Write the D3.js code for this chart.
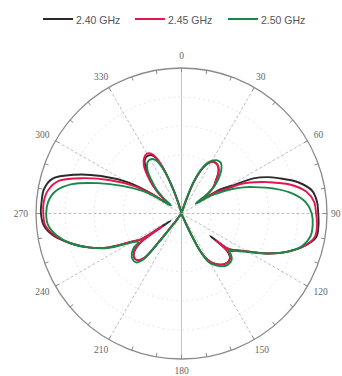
<!DOCTYPE html>
<html>
<head>
<meta charset="utf-8">
<script src="https://cdn.jsdelivr.net/npm/d3@7"></script>
<style>
  html, body { margin: 0; padding: 0; background: #fff; }
  svg { display: block; }
</style>
</head>
<body>
<script>
// Azimuth angles (degrees, clockwise from top) at which the pattern is sampled
const angles = [
  0, 10, 17, 19, 21, 24, 27, 30, 34, 38,
  42, 46, 50, 53, 55.5, 58, 61, 64, 67, 70,
  75, 80, 85, 90, 95, 100, 105, 110, 115, 120,
  124, 127, 128, 129.5, 133, 138, 143, 148, 151, 153.5,
  155.5, 158, 170, 190, 210, 217, 218.5, 220, 223, 227,
  231, 234.5, 236, 237.5, 240, 245, 250, 255, 260, 265,
  270, 275, 280, 285, 290, 295, 300, 303, 307, 310,
  314, 318, 322, 326, 330, 334, 337, 339, 341, 343,
  346, 352
];

// Normalised radiation pattern, 2.40 GHz
const gain240 = [
  0.01, 0.01, 0.03, 0.09, 0.22, 0.32, 0.38, 0.41, 0.42, 0.41,
  0.38, 0.33, 0.29, 0.23, 0.12, 0.31, 0.39, 0.55, 0.64, 0.71,
  0.83, 0.91, 0.935, 0.94, 0.945, 0.94, 0.87, 0.77, 0.65, 0.52,
  0.45, 0.40, 0.25, 0.41, 0.455, 0.46, 0.44, 0.40, 0.36, 0.28,
  0.14, 0.03, 0.01, 0.01, 0.01, 0.05, 0.25, 0.40, 0.44, 0.445,
  0.42, 0.35, 0.09, 0.33, 0.38, 0.55, 0.68, 0.79, 0.89, 0.95,
  0.966, 0.965, 0.96, 0.92, 0.78, 0.61, 0.43, 0.28, 0.10, 0.17,
  0.26, 0.33, 0.40, 0.45, 0.46, 0.44, 0.37, 0.29, 0.18, 0.08,
  0.02, 0.01
];

// Normalised radiation pattern, 2.45 GHz
const gain245 = [
  0.01, 0.01, 0.03, 0.09, 0.22, 0.32, 0.38, 0.41, 0.42, 0.41,
  0.38, 0.33, 0.29, 0.23, 0.13, 0.27, 0.34, 0.47, 0.55, 0.63,
  0.77, 0.87, 0.915, 0.925, 0.935, 0.93, 0.87, 0.77, 0.65, 0.52,
  0.45, 0.41, 0.30, 0.42, 0.455, 0.46, 0.44, 0.40, 0.36, 0.28,
  0.14, 0.03, 0.01, 0.01, 0.01, 0.05, 0.25, 0.40, 0.44, 0.445,
  0.42, 0.36, 0.16, 0.34, 0.38, 0.55, 0.68, 0.79, 0.88, 0.94,
  0.95, 0.95, 0.93, 0.87, 0.71, 0.54, 0.38, 0.25, 0.10, 0.18,
  0.27, 0.35, 0.42, 0.46, 0.475, 0.45, 0.38, 0.29, 0.18, 0.08,
  0.02, 0.01
];

// Normalised radiation pattern, 2.50 GHz
const gain250 = [
  0.01, 0.01, 0.05, 0.13, 0.24, 0.33, 0.39, 0.42, 0.44, 0.44,
  0.41, 0.36, 0.30, 0.23, 0.12, 0.22, 0.29, 0.38, 0.46, 0.53,
  0.66, 0.78, 0.86, 0.895, 0.905, 0.90, 0.86, 0.77, 0.65, 0.53,
  0.46, 0.43, 0.40, 0.44, 0.47, 0.475, 0.455, 0.415, 0.38, 0.30,
  0.16, 0.04, 0.01, 0.01, 0.01, 0.06, 0.27, 0.42, 0.46, 0.46,
  0.44, 0.40, 0.36, 0.36, 0.40, 0.56, 0.68, 0.79, 0.87, 0.92,
  0.93, 0.92, 0.88, 0.78, 0.61, 0.45, 0.31, 0.21, 0.09, 0.15,
  0.24, 0.31, 0.38, 0.42, 0.43, 0.41, 0.35, 0.28, 0.18, 0.09,
  0.03, 0.01
];

const seriesNames = ["2.40 GHz", "2.45 GHz", "2.50 GHz"];
const seriesColors = ["#2b2b2b", "#e3174f", "#168a45"];
const seriesValues = [gain240, gain245, gain250];

// Angular axis labels every 30 degrees
const angleTicks = ["0", "30", "60", "90", "120", "150", "180", "210", "240", "270", "300", "330"];
// Faint concentric reference rings
const ringLevels = [0.2, 0.4, 0.6, 0.8];

const W = 342, H = 376;
const cx = 181.5, cy = 213.5, R = 145.5;

const svg = d3.select("body").append("svg")
  .attr("width", W).attr("height", H)
  .attr("viewBox", `0 0 ${W} ${H}`);

const r = d3.scaleLinear().domain([0, 1]).range([0, R]);
const toRad = d => d * Math.PI / 180;

const plot = svg.append("g").attr("transform", `translate(${cx},${cy})`);

// Rings
plot.append("g").selectAll("circle")
  .data(ringLevels).join("circle")
  .attr("r", d => r(d))
  .attr("fill", "none")
  .attr("stroke", "#dadada")
  .attr("stroke-width", 0.7)
  .attr("stroke-dasharray", "2,3");

// Spokes every 30 degrees
plot.append("g").selectAll("line")
  .data(angleTicks.map(t => +t)).join("line")
  .attr("x1", 0).attr("y1", 0)
  .attr("x2", d => r(1) * Math.sin(toRad(d)))
  .attr("y2", d => -r(1) * Math.cos(toRad(d)))
  .attr("stroke", d => (d % 180 === 0) ? "#c4c4c4" : "#a4a4a4")
  .attr("stroke-width", d => (d % 180 === 0) ? 1 : 0.7)
  .attr("stroke-dasharray", d => (d % 180 === 0) ? null : "3,2");

// Outer circle
plot.append("circle")
  .attr("r", r(1))
  .attr("fill", "none")
  .attr("stroke", "#8a8a8a")
  .attr("stroke-width", 1.3);

// Minor ticks every 10 degrees
plot.append("g").selectAll("line")
  .data(d3.range(0, 360, 10)).join("line")
  .attr("x1", d => r(1) * Math.sin(toRad(d)))
  .attr("y1", d => -r(1) * Math.cos(toRad(d)))
  .attr("x2", d => (r(1) - 4) * Math.sin(toRad(d)))
  .attr("y2", d => -(r(1) - 4) * Math.cos(toRad(d)))
  .attr("stroke", "#8a8a8a")
  .attr("stroke-width", 1);

// Angle labels, kept inside the drawing area
const labelR = R + 8;
const fs = 9.5;
plot.append("g").selectAll("text")
  .data(angleTicks).join("text")
  .attr("x", d => {
    const a = toRad(+d), w = d.length * fs * 0.5;
    let x = labelR * Math.sin(a) + Math.sin(a) * w / 2;
    const maxX = W - 1.5 - cx - w / 2, minX = 1.5 - cx + w / 2;
    return Math.max(minX, Math.min(maxX, x));
  })
  .attr("y", d => {
    const a = toRad(+d);
    return -labelR * Math.cos(a) - Math.cos(a) * fs * 0.4;
  })
  .attr("text-anchor", "middle")
  .attr("dominant-baseline", "central")
  .attr("font-family", "'Liberation Serif', 'DejaVu Serif', serif")
  .attr("font-size", fs)
  .attr("fill", "#666")
  .text(d => d);

// Pattern curves
const line = d3.lineRadial()
  .angle(d => toRad(d[0]))
  .radius(d => r(d[1]))
  .curve(d3.curveCatmullRomClosed.alpha(0.5));

plot.append("g").selectAll("path")
  .data(seriesValues.map(vals => angles.map((a, i) => [a, vals[i]])))
  .join("path")
  .attr("d", line)
  .attr("fill", "none")
  .attr("stroke", (d, i) => seriesColors[i])
  .attr("stroke-width", 1.9)
  .attr("stroke-linejoin", "round");

// Legend
const legendX = [43, 135, 228];
const legend = svg.append("g");
seriesNames.forEach((name, i) => {
  legend.append("line")
    .attr("x1", legendX[i]).attr("x2", legendX[i] + 30)
    .attr("y1", 19).attr("y2", 19)
    .attr("stroke", seriesColors[i])
    .attr("stroke-width", 2);
  legend.append("text")
    .attr("x", legendX[i] + 33).attr("y", 20)
    .attr("dominant-baseline", "central")
    .attr("font-family", "'Liberation Sans', Arial, sans-serif")
    .attr("font-size", 10.5)
    .attr("fill", "#555")
    .text(name);
});
</script>
</body>
</html>
